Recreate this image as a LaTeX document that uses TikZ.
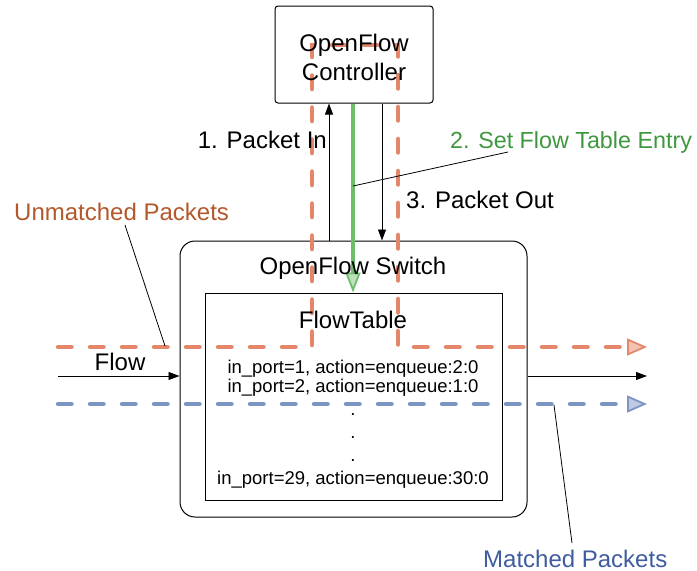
\documentclass[tikz,border=0pt]{standalone}
\usepackage{fontspec}
\setmainfont{Liberation Sans}
\usetikzlibrary{arrows.meta,calc}
\definecolor{unm}{RGB}{228,134,105}
\definecolor{mat}{RGB}{124,149,194}
\definecolor{setg}{RGB}{108,190,106}
\definecolor{unmtext}{RGB}{178,88,42}
\definecolor{mattext}{RGB}{62,92,158}
\definecolor{gtext}{RGB}{62,152,62}
\tikzset{
  box/.style={draw=black, line width=1pt, fill=white, inner sep=0pt},
  lbl/.style={inner sep=0pt, font=\fontsize{24}{29}\selectfont},
  entry/.style={inner sep=0pt, font=\fontsize{18.5}{22}\selectfont},
  pktpath/.style={line width=4.5pt, line cap=round, dash pattern=on 13.5pt off 18.5pt},
  pkttip/.style={-{Triangle[length=20pt,width=17pt,line width=1.8pt,fill=#1!50,line cap=butt]}},
  msg/.style={line width=0.8pt, -{Triangle[length=11pt,width=8pt]}},
  note/.style={line width=0.8pt},
}
\begin{document}
\begin{tikzpicture}[x=1pt,y=-1pt]
  \useasboundingbox (0,0) rectangle (697,571);

  % boxes
  \node[box, rounded corners=3pt, minimum width=158pt, minimum height=97pt] (ctl) at (354,54.5) {};
  \node[box, rounded corners=15pt, minimum width=347pt, minimum height=276pt] (sw) at (353.5,379) {};
  \node[box, minimum width=297pt, minimum height=207pt] (ft) at (353.5,396.5) {};

  % x positions of the control channel messages
  \coordinate (xin) at (329,0);
  \coordinate (xset) at (353,0);
  \coordinate (xout) at (382,0);

  % data plane flow in and out
  \coordinate (flowsrc) at (58,376);
  \coordinate (flowdst) at (647,376);
  \draw[msg] (flowsrc) -- (sw.west |- flowsrc);
  \draw[msg] (sw.east |- flowdst) -- (flowdst);

  % control channel messages
  \draw[msg] (sw.north -| xin) -- (ctl.south -| xin);
  \draw[msg] (ctl.south -| xout) -- (sw.north -| xout);
  \draw[setg, line width=4pt, -{Triangle[length=20pt,width=15pt,line width=1.8pt,fill=setg!45]}]
    (ctl.south -| xset) -- (ft.north -| xset);

  % unmatched packets detour through the controller
  \coordinate (u0) at (58,347);
  \coordinate (u1) at (312,347);
  \coordinate (u2) at (312,45);
  \coordinate (u3) at (398,45);
  \coordinate (u4) at (398,347);
  \coordinate (u5) at (647,347);
  \draw[unm, pktpath, pkttip=unm] (u0) -- (u1) -- (u2) -- (u3) -- (u4) -- (u5);

  % matched packets pass straight through
  \coordinate (m0) at (58,404);
  \coordinate (m1) at (647,404);
  \draw[mat, pktpath, pkttip=mat] (m0) -- (m1);

  % texts
  \node[lbl, align=center] (ctltxt) at ($(ctl.center)+(0,3)$) {OpenFlow\\Controller};
  \node[lbl, anchor=base] (swtxt) at (353,274) {OpenFlow Switch};
  \node[lbl, anchor=base] (fttxt) at (353,328) {FlowTable};
  \node[entry, anchor=base] (e1) at (353,373) {in\_port=1, action=enqueue:2:0};
  \node[entry, anchor=base] (e2) at (353,392) {in\_port=2, action=enqueue:1:0};
  \node[entry, anchor=base] (d1) at (353,415) {.};
  \node[entry, anchor=base] (d2) at (353,438) {.};
  \node[entry, anchor=base] (d3) at (353,461) {.};
  \node[entry, anchor=base] (e29) at (353,484) {in\_port=29, action=enqueue:30:0};

  \node[lbl, anchor=base] (flowtxt) at (120,370) {Flow};
  \node[lbl, anchor=base east] (pin) at (327,148.5) {1. Packet In};
  \node[lbl, anchor=base west, text=gtext, font=\fontsize{23.3}{28}\selectfont] (pset) at (450,148.5) {2. Set Flow Table Entry};
  \node[lbl, anchor=base west] (pout) at (406,208.5) {3. Packet Out};
  \node[lbl, anchor=base west, text=unmtext] (unml) at (14,220) {Unmatched Packets};
  \node[lbl, anchor=base west, text=mattext] (matl) at (483,567) {Matched Packets};

  % label pointers
  \coordinate (ua) at (125,225);
  \coordinate (ub) at (165,346);
  \draw[note] (ua) -- (ub);
  \coordinate (sa) at (508,152);
  \coordinate (sb) at (353,186);
  \draw[note] (sa) -- (sb);
  \coordinate (ma) at (572,543);
  \coordinate (mb) at (554,405);
  \draw[note] (ma) -- (mb);
\end{tikzpicture}
\end{document}
